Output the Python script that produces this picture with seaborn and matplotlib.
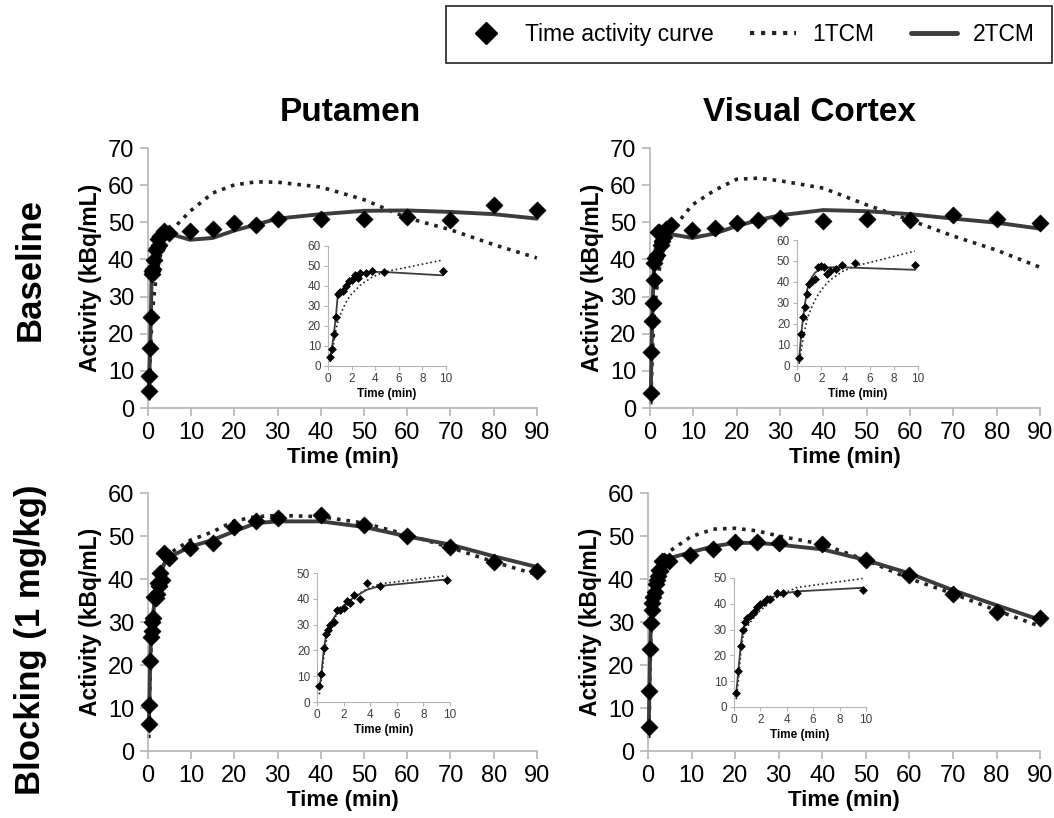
import matplotlib
matplotlib.use("Agg")
import matplotlib.pyplot as plt
import seaborn as sns
from matplotlib.lines import Line2D

sns.set_style("ticks")
plt.rcParams['font.family'] = ['Liberation Sans', 'DejaVu Sans']
plt.rcParams['text.color'] = 'black'
plt.rcParams['axes.labelcolor'] = 'black'

# frame mid-times (min)
times = [0.17, 0.33, 0.5, 0.67, 0.83, 1.0, 1.25, 1.5, 1.75, 2.0, 2.25, 2.5, 2.75,
         3.25, 3.75, 4.75, 9.75, 15, 20, 25, 30, 40, 50, 60, 70, 80, 90]

# Putamen, baseline
put_base_tac = [4.5, 8.7, 16.2, 24.6, 36.0, 36.8, 37.5, 39.8, 42.5, 43.2, 45.5, 43.8, 46.3,
                46.5, 47.7, 47.2, 47.6, 48.2, 49.8, 49.4, 50.9, 50.8, 50.8, 51.5, 50.6, 54.8, 53.4]
put_base_1tcm = [2.0, 6.0, 12.0, 18.0, 22.0, 25.0, 28.5, 31.5, 34.0, 36.0, 37.5, 39.0, 40.5,
                 42.5, 44.5, 47.0, 53.0, 57.9, 60.1, 60.9, 60.8, 59.5, 56.1, 51.2, 48.0, 44.0, 40.4]
put_base_2tcm = [4.0, 9.0, 16.0, 25.0, 35.5, 37.0, 38.0, 40.0, 42.0, 43.5, 44.5, 45.5, 46.0,
                 46.5, 47.0, 47.0, 45.3, 45.8, 47.8, 49.4, 51.0, 52.2, 53.1, 53.2, 52.8, 52.2, 51.0]

# Visual cortex, baseline
vc_base_tac = [4.0, 15.2, 23.5, 28.3, 34.4, 39.0, 40.5, 41.3, 47.3, 47.5, 47.2, 44.0, 45.0,
               46.0, 48.2, 49.2, 48.0, 48.6, 49.9, 50.6, 51.2, 50.4, 50.8, 50.6, 51.9, 50.8, 49.7]
vc_base_1tcm = [1.0, 7.0, 13.0, 18.0, 22.0, 25.0, 28.5, 31.5, 34.0, 36.0, 38.0, 39.5, 41.0,
                43.0, 45.0, 47.5, 54.7, 58.7, 61.6, 61.9, 61.2, 59.2, 54.7, 50.6, 46.3, 42.5, 37.9]
vc_base_2tcm = [3.0, 14.0, 23.0, 30.0, 36.0, 40.0, 42.5, 44.5, 45.5, 46.2, 46.5, 46.8, 47.0,
                47.0, 47.0, 46.8, 45.8, 47.0, 49.0, 50.6, 51.9, 53.3, 53.0, 52.2, 51.0, 49.9, 48.3]

# Putamen, blocking
put_blk_tac = [6.3, 10.7, 21.0, 26.5, 28.0, 30.0, 31.0, 35.8, 35.5, 36.5, 39.0, 38.3, 41.3,
               39.8, 46.0, 44.8, 47.3, 48.3, 52.0, 53.4, 54.2, 54.8, 52.6, 49.9, 47.4, 43.9, 41.8]
put_blk_1tcm = [3.0, 9.0, 17.0, 23.0, 27.0, 29.5, 32.0, 34.0, 35.8, 37.3, 38.5, 39.6, 40.6,
                42.3, 43.8, 45.8, 49.0, 51.0, 53.5, 54.5, 54.8, 54.5, 53.0, 50.3, 47.3, 44.0, 41.0]
put_blk_2tcm = [5.0, 11.0, 20.0, 25.5, 28.5, 30.5, 32.5, 34.5, 36.0, 37.3, 38.5, 39.5, 40.5,
                42.0, 43.5, 45.0, 47.5, 49.1, 51.1, 53.0, 53.4, 53.4, 52.1, 49.9, 48.0, 45.3, 42.8]

# Visual cortex, blocking
vc_blk_tac = [5.5, 14.0, 23.8, 29.8, 32.8, 34.5, 35.7, 37.0, 38.9, 39.8, 40.6, 42.0, 41.8,
              44.3, 44.2, 44.2, 45.5, 46.9, 48.7, 48.7, 48.4, 48.1, 44.4, 40.9, 36.4, 32.3, 30.9]
vc_blk_1tcm = [3.0, 10.0, 20.0, 27.0, 29.5, 31.0, 33.0, 34.5, 36.0, 37.5, 38.5, 39.5, 40.5,
               42.5, 44.0, 46.3, 49.8, 51.6, 51.8, 51.2, 50.0, 48.1, 44.4, 40.1, 36.6, 32.7, 29.0]
vc_blk_2tcm = [5.5, 14.0, 23.5, 29.5, 32.5, 34.5, 36.0, 37.3, 38.5, 39.6, 40.6, 41.5, 42.2,
               43.3, 44.0, 44.8, 46.2, 47.6, 48.4, 48.4, 48.0, 46.9, 44.4, 41.3, 37.4, 33.9, 30.5]

col_titles = ["Putamen", "Visual Cortex"]
row_titles = ["Baseline", "Blocking (1 mg/kg)"]

SPINE = '#b5b5b5'


def draw(ax, tac, m1, m2, big):
    t = times if big else [v for v in times if v <= 10]
    n = len(t)
    if big:
        lw2, lw1, s = 2.8, 2.6, 75
    else:
        lw2, lw1, s = 1.3, 1.2, 16
    sns.lineplot(x=t, y=m1[:n], ax=ax, color='#222222', linestyle=':', lw=lw1,
                 clip_on=False, zorder=2)
    sns.lineplot(x=t, y=m2[:n], ax=ax, color='#3c3c3c', lw=lw2, clip_on=False, zorder=3)
    sns.scatterplot(x=t, y=tac[:n], ax=ax, marker='D', s=s, color='black',
                    edgecolor='black', linewidth=0.5, clip_on=False, zorder=4)
    sns.despine(ax=ax)
    for sp in ['left', 'bottom']:
        ax.spines[sp].set_color(SPINE)
        ax.spines[sp].set_linewidth(1.2 if big else 0.8)


fig = plt.figure(figsize=(10.54, 8.18), dpi=100)

main_pos = [
    [0.1404, 0.5012, 0.369, 0.3178],
    [0.6167, 0.5012, 0.370, 0.3178],
    [0.1404, 0.0819, 0.369, 0.3154],
    [0.6148, 0.0819, 0.372, 0.3154],
]
inset_pos = [
    [0.3112, 0.5526, 0.112, 0.1467],
    [0.7562, 0.5526, 0.1148, 0.154],
    [0.3008, 0.1418, 0.1262, 0.1577],
    [0.6964, 0.1357, 0.1252, 0.1577],
]
panels = [
    (put_base_tac, put_base_1tcm, put_base_2tcm, 70, 60),
    (vc_base_tac, vc_base_1tcm, vc_base_2tcm, 70, 60),
    (put_blk_tac, put_blk_1tcm, put_blk_2tcm, 60, 50),
    (vc_blk_tac, vc_blk_1tcm, vc_blk_2tcm, 60, 50),
]

for i, (tac, m1, m2, ymax, ymax_in) in enumerate(panels):
    ax = fig.add_axes(main_pos[i])
    draw(ax, tac, m1, m2, True)
    ax.set_xlim(0, 90)
    ax.set_ylim(0, ymax)
    ax.set_xticks(range(0, 91, 10))
    ax.set_yticks(range(0, ymax + 1, 10))
    ax.tick_params(labelsize=17, colors=SPINE, labelcolor='black', length=6, width=1.2, pad=4)
    ax.set_xlabel("Time (min)", fontsize=16, fontweight='bold', labelpad=2)
    ax.set_ylabel("Activity (kBq/mL)", fontsize=16.5, fontweight='bold', labelpad=4)

    ins = fig.add_axes(inset_pos[i])
    ins.patch.set_alpha(0)
    draw(ins, tac, m1, m2, False)
    ins.set_xlim(0, 10)
    ins.set_ylim(0, ymax_in)
    ins.set_xticks(range(0, 11, 2))
    ins.set_yticks(range(0, ymax_in + 1, 10))
    ins.tick_params(labelsize=8.5, colors=SPINE, labelcolor='#404040', length=3, width=0.8, pad=2)
    ins.set_xlabel("Time (min)", fontsize=8.5, fontweight='bold', labelpad=2)
    ins.set_ylabel("")

fig.text(0.332, 0.862, col_titles[0], fontsize=24, fontweight='bold', ha='center', va='center')
fig.text(0.768, 0.862, col_titles[1], fontsize=24, fontweight='bold', ha='center', va='center')
fig.text(0.029, 0.67, row_titles[0], fontsize=25, fontweight='bold', rotation=90,
         ha='center', va='center')
fig.text(0.029, 0.218, row_titles[1], fontsize=25, fontweight='bold', rotation=90,
         ha='center', va='center')

handles = [
    Line2D([], [], marker='D', color='black', linestyle='none', markersize=11),
    Line2D([], [], color='#222222', linestyle=':', lw=3),
    Line2D([], [], color='#3c3c3c', lw=3.5),
]
leg = fig.legend(handles, ["Time activity curve", "1TCM", "2TCM"], loc='upper right',
                 bbox_to_anchor=(0.998, 0.993), borderaxespad=0, ncol=3, fontsize=16.5,
                 frameon=True, fancybox=False, edgecolor='black', handlelength=2.0,
                 columnspacing=1.6, handletextpad=0.7, borderpad=0.75)
leg.get_frame().set_linewidth(1.3)

fig.savefig("out.png", dpi=100)
